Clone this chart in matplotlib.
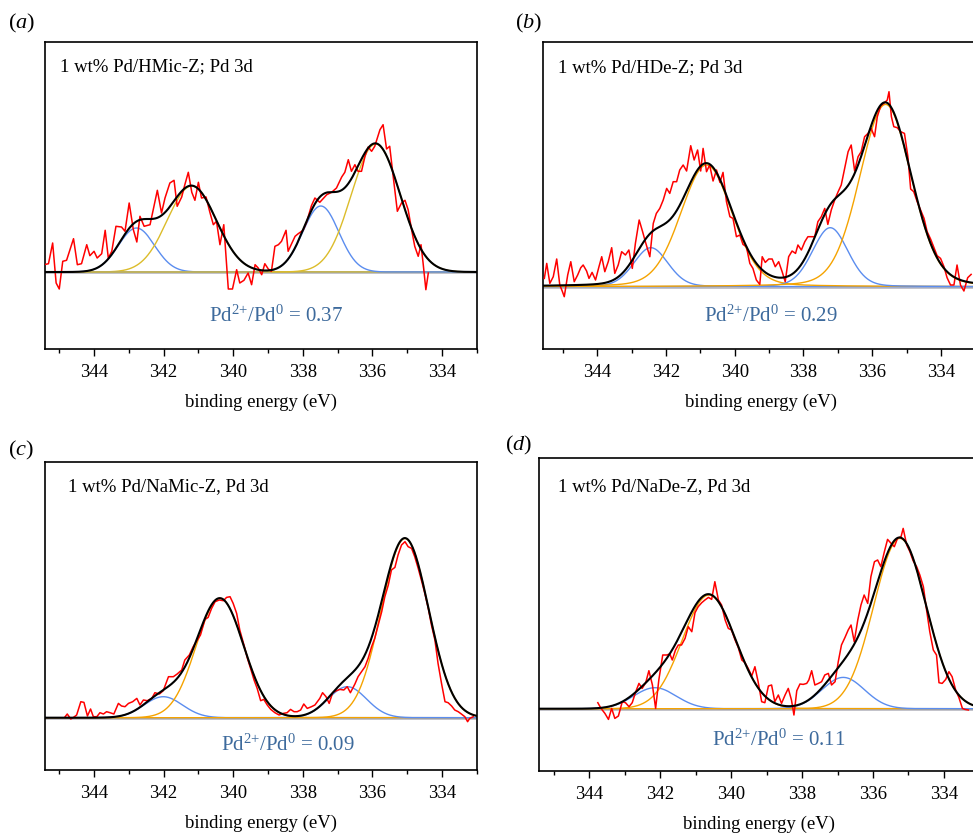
import numpy as np
import matplotlib
matplotlib.use("Agg")
import matplotlib.pyplot as plt
from matplotlib.ticker import MultipleLocator

plt.rcParams['font.family'] = ['Liberation Serif', 'DejaVu Serif']
plt.rcParams['mathtext.fontset'] = 'custom'
plt.rcParams['mathtext.rm'] = 'Liberation Serif'
plt.rcParams['mathtext.it'] = 'Liberation Serif:italic'

# ---------------- data ----------------
titles = ["1 wt% Pd/HMic-Z; Pd 3d", "1 wt% Pd/HDe-Z; Pd 3d",
          "1 wt% Pd/NaMic-Z, Pd 3d", "1 wt% Pd/NaDe-Z, Pd 3d"]
letters = ["a", "b", "c", "d"]
ratios = ["0.37", "0.29", "0.09", "0.11"]

# panel (a) measured spectrum
energy_a = [345.50, 345.44, 345.31, 345.19, 345.09, 345.00, 344.90, 344.79, 344.59, 344.48,
            344.36, 344.21, 344.12, 344.00, 343.91, 343.78, 343.68, 343.59, 343.49, 343.37,
            343.21, 343.11, 342.99, 342.87, 342.77, 342.68, 342.56, 342.39, 342.18, 342.06,
            341.96, 341.82, 341.70, 341.61, 341.48, 341.39, 341.29, 341.19, 341.10, 341.00,
            340.91, 340.78, 340.67, 340.57, 340.48, 340.38, 340.27, 340.14, 340.02, 339.90,
            339.81, 339.69, 339.57, 339.47, 339.37, 339.28, 339.18, 339.09, 338.99, 338.90,
            338.80, 338.70, 338.61, 338.48, 338.42, 338.32, 338.22, 338.13, 337.99, 337.89,
            337.75, 337.65, 337.51, 337.31, 337.17, 337.03, 336.88, 336.79, 336.69, 336.60,
            336.50, 336.41, 336.31, 336.21, 336.12, 336.02, 335.93, 335.78, 335.69, 335.59,
            335.50, 335.40, 335.28, 335.16, 335.06, 334.97, 334.87, 334.78, 334.68, 334.60,
            334.54, 334.46, 334.39]
counts_a = [10.7, 7.3, 8.3, 29.0, -11.0, -17.0, 10.7, 11.7, 33.3, 7.3,
            8.3, 27.3, 16.3, 20.7, 14.0, 18.3, 41.7, 14.0, 20.7, 45.7,
            45.0, 40.7, 69.0, 42.3, 30.0, 55.7, 45.7, 47.3, 81.7, 59.0,
            74.0, 89.0, 91.7, 65.7, 75.0, 87.3, 99.7, 79.7, 71.7, 89.7,
            74.0, 75.0, 59.7, 47.3, 50.7, 27.3, 47.3, -17.0, -17.0, 2.3,
            -11.0, -8.3, -1.0, -12.7, 7.3, 4.0, -2.7, 8.3, 3.0, 0.7,
            25.7, 27.3, 30.7, 41.7, 20.7, 28.3, 35.7, 38.3, 41.7, 49.7,
            66.3, 74.0, 69.7, 77.3, 79.7, 84.0, 95.0, 99.7, 112.3, 100.7,
            107.3, 100.7, 100.7, 115.7, 125.0, 120.7, 125.7, 142.3, 147.3, 123.0,
            125.7, 95.7, 60.7, 69.0, 71.7, 62.3, 42.3, 25.7, 15.7, 27.3,
            9.0, -17.7, -1.0]

# panel (b) measured spectrum
energy_b = [345.54, 345.47, 345.38, 345.28, 345.18, 345.09, 345.02, 344.96, 344.86, 344.77,
            344.67, 344.57, 344.48, 344.41, 344.31, 344.24, 344.15, 344.05, 343.95, 343.87,
            343.78, 343.68, 343.58, 343.49, 343.39, 343.29, 343.18, 343.08, 342.98, 342.89,
            342.78, 342.68, 342.60, 342.47, 342.37, 342.28, 342.18, 342.08, 341.98, 341.89,
            341.79, 341.69, 341.60, 341.50, 341.40, 341.28, 341.18, 341.08, 340.99, 340.92,
            340.82, 340.73, 340.63, 340.53, 340.43, 340.34, 340.24, 340.14, 340.05, 339.95,
            339.85, 339.76, 339.66, 339.56, 339.47, 339.37, 339.27, 339.20, 339.11, 339.01,
            338.91, 338.82, 338.72, 338.62, 338.53, 338.43, 338.33, 338.23, 338.16, 338.06,
            337.96, 337.87, 337.77, 337.67, 337.58, 337.48, 337.38, 337.29, 337.19, 337.09,
            336.99, 336.90, 336.80, 336.70, 336.61, 336.51, 336.41, 336.32, 336.22, 336.12,
            336.03, 335.93, 335.85, 335.75, 335.66, 335.56, 335.51, 335.44, 335.37, 335.27,
            335.17, 335.06, 334.96, 334.88, 334.79, 334.69, 334.59, 334.49, 334.40, 334.30,
            334.20, 334.11, 334.01, 333.91, 333.82, 333.72, 333.62, 333.53, 333.43, 333.33,
            333.22, 333.12]
counts_b = [8.3, 23.3, 3.3, 10.0, 27.7, 1.7, -4.3, -10.0, 11.7, 25.0,
            5.0, 11.7, 19.0, 21.7, 15.7, 8.3, 14.3, 6.7, 20.0, 30.0,
            15.0, 25.0, 39.0, 13.3, 21.7, 35.0, 31.7, 36.7, 18.3, 43.3,
            66.7, 55.0, 45.0, 30.0, 63.3, 73.3, 78.3, 86.7, 98.3, 93.3,
            105.0, 105.0, 116.7, 121.7, 115.7, 141.0, 126.7, 136.7, 115.7, 138.3,
            115.0, 121.7, 105.7, 116.7, 104.3, 114.3, 85.0, 70.0, 68.3, 50.0,
            51.7, 42.3, 40.0, 23.3, 18.3, 6.7, 2.3, 30.0, 24.3, 27.7,
            27.7, 20.0, 25.0, 15.0, 5.0, 30.0, 35.7, 33.3, 41.7, 36.7,
            45.0, 50.0, 50.0, 50.0, 65.0, 70.0, 78.3, 62.3, 76.7, 86.7,
            95.0, 101.7, 118.3, 135.0, 141.7, 115.7, 130.0, 135.0, 150.0, 153.3,
            158.3, 150.0, 170.0, 181.0, 183.3, 186.7, 195.0, 170.0, 160.0, 159.0,
            155.0, 153.3, 130.0, 97.7, 95.0, 85.0, 76.7, 68.3, 55.0, 47.7,
            39.0, 31.0, 28.3, 20.0, 9.0, 1.7, 1.7, 21.7, 1.7, -4.3,
            9.0, 12.3]

# panel (c) measured spectrum
energy_c = [344.83, 344.77, 344.67, 344.59, 344.50, 344.38, 344.29, 344.19, 344.10, 344.02,
            343.92, 343.83, 343.73, 343.64, 343.54, 343.43, 343.30, 343.21, 343.11, 343.01,
            342.89, 342.77, 342.68, 342.58, 342.47, 342.34, 342.25, 342.12, 342.01, 341.86,
            341.72, 341.61, 341.48, 341.39, 341.26, 341.15, 341.03, 340.94, 340.81, 340.72,
            340.62, 340.52, 340.40, 340.28, 340.19, 340.09, 340.00, 339.90, 339.81, 339.69,
            339.59, 339.50, 339.40, 339.31, 339.21, 339.12, 339.02, 338.92, 338.80, 338.68,
            338.56, 338.45, 338.35, 338.25, 338.16, 338.06, 337.97, 337.87, 337.75, 337.65,
            337.51, 337.43, 337.33, 337.24, 337.14, 337.03, 336.93, 336.82, 336.72, 336.63,
            336.50, 336.41, 336.31, 336.21, 336.12, 336.02, 335.93, 335.83, 335.73, 335.64,
            335.54, 335.45, 335.35, 335.26, 335.16, 335.06, 334.97, 334.87, 334.78, 334.68,
            334.59, 334.49, 334.39, 334.30, 334.20, 334.11, 334.01, 333.91, 333.82, 333.72,
            333.63, 333.53, 333.44, 333.34, 333.26, 333.20, 333.10]
counts_c = [1.0, 3.7, -1.3, 0.3, 2.7, 16.0, 15.3, 1.7, 8.7, 1.0,
            1.0, 5.0, 3.7, 6.0, 5.0, 3.7, 14.3, 11.7, 11.0, 14.3,
            16.0, 19.3, 12.7, 17.7, 17.0, 19.3, 25.0, 23.7, 27.0, 41.0,
            41.0, 43.7, 47.7, 57.7, 62.7, 71.0, 77.7, 82.7, 98.3, 100.3,
            109.3, 116.0, 117.7, 117.0, 120.3, 121.0, 114.3, 104.3, 87.7, 72.7,
            59.3, 49.3, 37.7, 29.3, 17.0, 18.3, 12.7, 8.3, 5.0, 2.7,
            4.3, 5.0, 8.3, 6.0, 6.0, 7.7, 13.7, 9.3, 11.0, 12.7,
            19.3, 25.0, 21.0, 14.3, 25.0, 27.0, 28.3, 27.7, 31.0, 25.0,
            33.7, 41.0, 46.0, 51.0, 59.3, 71.0, 79.3, 92.7, 106.0, 121.0,
            132.7, 147.7, 150.3, 162.7, 172.7, 176.0, 171.0, 169.3, 161.0, 149.3,
            137.7, 124.3, 109.3, 92.7, 77.7, 54.3, 34.3, 16.0, 15.0, 11.7,
            7.7, 6.0, 3.7, 1.0, -4.0, -0.7, 1.0]

# panel (d) measured spectrum
energy_d = [343.76, 343.67, 343.56, 343.46, 343.37, 343.28, 343.18, 343.07, 342.98, 342.88,
            342.79, 342.69, 342.60, 342.51, 342.41, 342.32, 342.22, 342.13, 342.04, 341.93,
            341.82, 341.73, 341.66, 341.57, 341.49, 341.40, 341.30, 341.21, 341.11, 341.02,
            340.93, 340.83, 340.74, 340.64, 340.55, 340.46, 340.36, 340.27, 340.17, 340.08,
            339.99, 339.89, 339.80, 339.70, 339.61, 339.52, 339.42, 339.33, 339.24, 339.14,
            339.05, 338.95, 338.86, 338.77, 338.67, 338.58, 338.48, 338.39, 338.30, 338.23,
            338.15, 338.06, 337.97, 337.87, 337.81, 337.73, 337.64, 337.54, 337.45, 337.36,
            337.26, 337.17, 337.07, 336.98, 336.89, 336.79, 336.70, 336.62, 336.53, 336.43,
            336.34, 336.25, 336.15, 336.06, 335.96, 335.87, 335.78, 335.68, 335.59, 335.49,
            335.40, 335.31, 335.21, 335.15, 335.05, 334.96, 334.87, 334.77, 334.68, 334.58,
            334.49, 334.40, 334.30, 334.21, 334.14, 334.05, 333.95, 333.86, 333.77, 333.67,
            333.58, 333.48, 333.41, 333.31]
counts_d = [6.0, 0.3, -4.7, -10.7, 0.3, -9.7, -7.3, 7.0, 6.0, 2.0,
            6.0, 17.0, 25.3, 20.3, 26.0, 38.0, 23.7, 0.3, 28.7, 53.7,
            53.7, 54.7, 48.7, 58.7, 63.7, 63.7, 70.3, 82.0, 77.0, 96.0,
            102.0, 106.0, 108.7, 111.3, 109.3, 127.0, 108.7, 103.7, 88.7, 80.3,
            78.7, 68.7, 61.3, 48.7, 46.0, 40.3, 32.7, 42.0, 27.0, 7.0,
            6.0, 22.7, 23.7, 7.0, 13.7, 5.3, 13.7, 20.3, 8.7, -6.3,
            18.0, 24.7, 24.3, 25.3, 28.7, 38.0, 23.7, 25.3, 27.0, 33.7,
            35.3, 23.7, 27.0, 47.0, 63.7, 71.3, 78.7, 83.7, 67.0, 88.7,
            103.7, 113.7, 105.3, 132.0, 147.0, 148.7, 142.0, 157.0, 169.3, 165.3,
            162.0, 170.3, 172.0, 180.3, 163.7, 157.0, 148.0, 142.0, 133.7, 122.0,
            98.7, 77.0, 58.7, 53.7, 26.0, 25.3, 29.3, 37.0, 32.0, 18.7,
            11.3, 0.3, -0.7, -1.3]

# fitted components: Pd2+ (3d3/2, 3d5/2) and Pd0 (3d3/2, 3d5/2)
pd2_center = [[342.78, 337.48], [342.44, 337.22], [342.01, 336.72], [342.15, 336.84]]
pd2_height = [[44.0, 66.0], [39.0, 59.0], [21.0, 31.0], [21.0, 31.3]]
pd2_fwhm = [[1.22, 1.22], [1.18, 1.22], [1.30, 1.30], [1.41, 1.41]]
pd0_center = [[341.19, 335.90], [340.82, 335.61], [340.38, 335.06], [340.625, 335.24]]
pd0_height = [[86.0, 128.0], [121.7, 182.3], [119.3, 179.3], [113.7, 170.3]]
pd0_fwhm = [[1.65, 1.65], [1.77, 1.77], [1.60, 1.60], [1.77, 1.74]]
lorentz_frac = [0.0, 0.15, 0.0, 0.0]

# ---------------- layout ----------------
W, H = 973, 835
# left, right, top, bottom (px) and x limits
boxes = [(45, 477, 42, 349), (543.3, 978, 42, 349),
         (45, 477, 462, 770), (539.3, 978, 457.7, 771)]
xlims = [(345.41, 332.99), (345.57, 332.92), (345.41, 332.99), (345.41, 333.04)]
ylims = [(-77, 230), (-62.3, 244.7), (-52.3, 255.7), (-62.3, 251.0)]
letter_pos = [(8, 23), (515, 23), (8, 450), (505, 445)]
title_pos = [(0.035, 0.919), (0.0345, 0.915), (0.054, 0.92), (0.043, 0.907)]
ratio_pos = [(0.535, 0.107), (0.524, 0.107), (0.5625, 0.081), (0.546, 0.099)]
pd0_colors = ['#dcbc2a', '#f5a300', '#f5a300', '#f5a300']
blue = '#5b8def'
red_data = [(energy_a, counts_a), (energy_b, counts_b), (energy_c, counts_c), (energy_d, counts_d)]


def peak(x, c, h, fwhm, eta):
    s = fwhm / 2.3548
    g = np.exp(-(x - c) ** 2 / (2 * s ** 2))
    l = 1.0 / (1.0 + (2 * (x - c) / fwhm) ** 2)
    return h * ((1 - eta) * g + eta * l)


fig = plt.figure(figsize=(W / 100, H / 100), dpi=100)
for i in range(4):
    l, r, t, b = boxes[i]
    ax = fig.add_axes([l / W, 1 - b / H, (r - l) / W, (b - t) / H])
    x = np.linspace(xlims[i][1], xlims[i][0], 800)
    ax.axhline(0, color='#bcbcc4', lw=2.0, zorder=1)
    total = np.zeros_like(x)
    for k in range(2):
        yb = peak(x, pd2_center[i][k], pd2_height[i][k], pd2_fwhm[i][k], lorentz_frac[i])
        yo = peak(x, pd0_center[i][k], pd0_height[i][k], pd0_fwhm[i][k], lorentz_frac[i])
        ax.plot(x, yb, color=blue, lw=1.0, zorder=2)
        ax.plot(x, yo, color=pd0_colors[i], lw=1.0, zorder=2)
        total += yb + yo
    e, cnt = red_data[i]
    ax.plot(e, cnt, color='#ff0000', lw=1.1, zorder=3)
    ax.plot(x, total, color='black', lw=1.5, zorder=4)
    ax.set_xlim(*xlims[i])
    ax.set_ylim(*ylims[i])
    ax.set_yticks([])
    ax.xaxis.set_major_locator(MultipleLocator(2))
    ax.xaxis.set_minor_locator(MultipleLocator(1))
    ax.tick_params(axis='x', which='major', direction='out', length=5, width=1.0,
                   labelsize=13.5, pad=6)
    ax.tick_params(axis='x', which='minor', direction='out', length=3, width=1.0)
    for sp in ax.spines.values():
        sp.set_linewidth(1.2)
    ax.set_xlabel('binding energy (eV)', fontsize=13.5, labelpad=9)
    ax.text(title_pos[i][0], title_pos[i][1], titles[i], transform=ax.transAxes,
            fontsize=13.5, ha='left', va='center')
    ax.text(ratio_pos[i][0], ratio_pos[i][1],
            r'Pd$^{2{+}}$/Pd$^{0}$ = ' + ratios[i], transform=ax.transAxes,
            fontsize=15, ha='center', va='center', color='#3d6a9c')
    fig.text(letter_pos[i][0] / W, 1 - letter_pos[i][1] / H,
             r'($\mathit{' + letters[i] + r'}$)', fontsize=16, ha='left', va='center')

fig.savefig('out.png', dpi=100)
